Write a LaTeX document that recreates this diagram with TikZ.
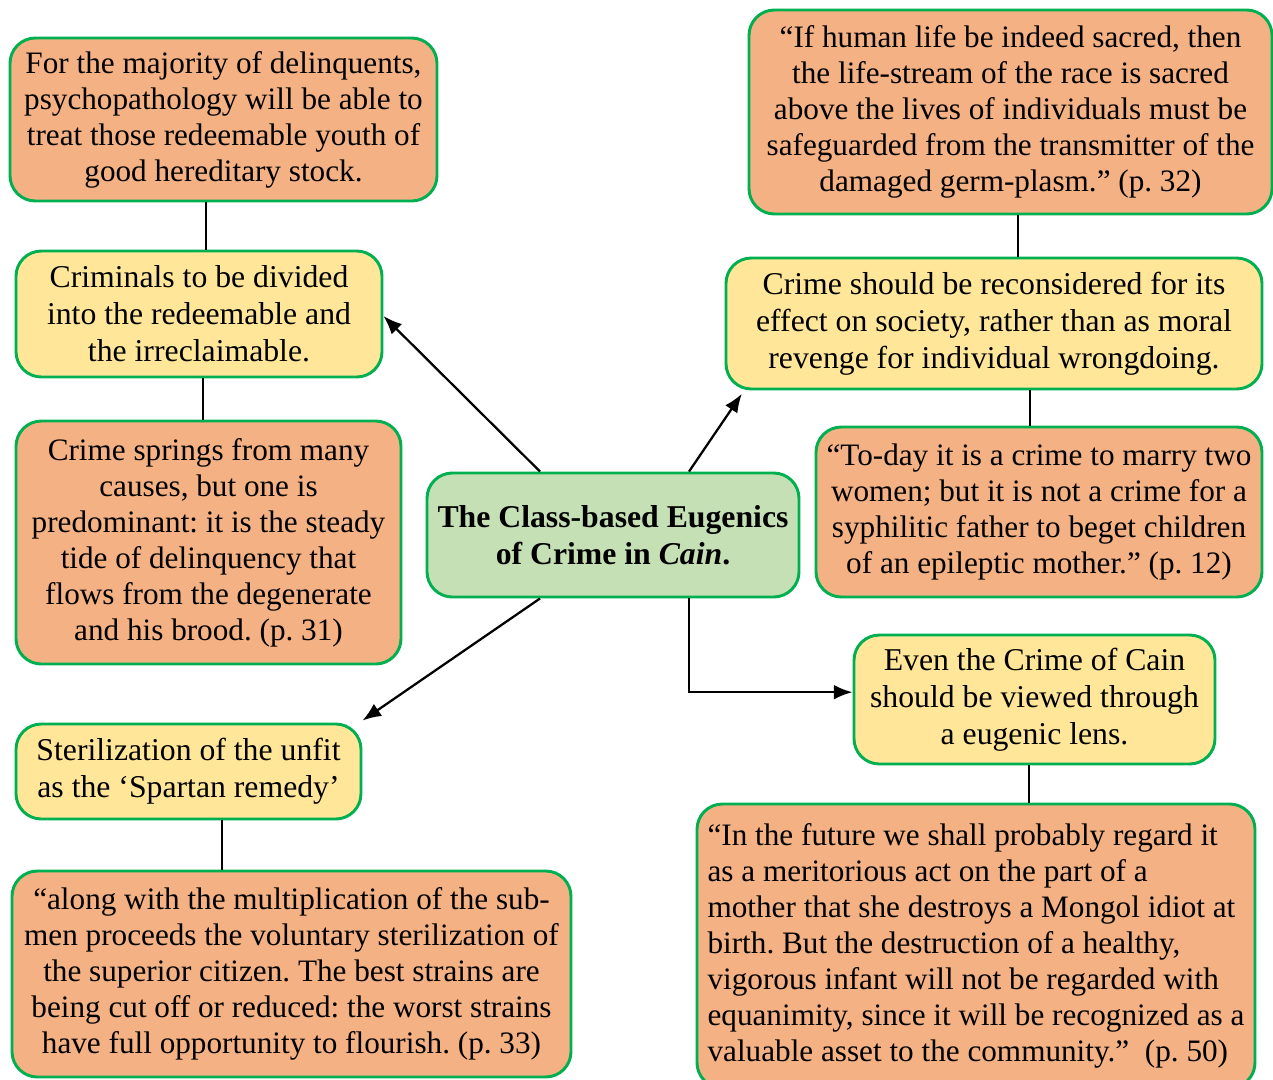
\documentclass[tikz,border=0pt]{standalone}
\usepackage{fontspec}
\setmainfont{Liberation Serif}
\usetikzlibrary{arrows.meta}
\definecolor{quotefill}{HTML}{F4B183}
\definecolor{ideafill}{HTML}{FFE699}
\definecolor{corefill}{HTML}{C5E0B4}
\definecolor{rim}{HTML}{00B050}
\frenchspacing

\tikzset{
  card/.style={draw=rim, line width=2.2pt, rounded corners=19pt, inner sep=0pt, align=center, text=black},
  dims/.style 2 args={minimum width=#1*0.75pt, minimum height=#2*0.75pt},
  quotebox/.style={card, fill=quotefill, font=\fontsize{23.4}{27}\selectfont},
  ideabox/.style={card, fill=ideafill, font=\fontsize{23.8}{27.6}\selectfont},
  corebox/.style={card, fill=corefill, font=\bfseries\fontsize{23.8}{27.6}\selectfont},
  link/.style={line width=1.6pt},
  pointer/.style={line width=1.7pt, -{Latex[length=14pt,width=11pt]}},
}

\begin{document}
\begin{tikzpicture}[x=0.75pt,y=-0.75pt]
\useasboundingbox (0,0) rectangle (1273,1079);

% central theme
\node[corebox, dims={372}{124}] (core) at (613,535)
  {The Class-based Eugenics\\of Crime in \textit{Cain}.};

% left column
\node[quotebox, dims={427}{163}] (q1) at (223.5,119.5)
  {For the majority of delinquents,\\psychopathology will be able to\\treat those redeemable youth of\\good hereditary stock.};
\node[ideabox, dims={366}{126}] (i1) at (199,314)
  {Criminals to be divided\\into the redeemable and\\the irreclaimable.};
\node[quotebox, dims={385}{243}] (q2) at (208.5,542.5)
  {Crime springs from many\\causes, but one is\\predominant: it is the steady\\tide of delinquency that\\flows from the degenerate\\and his brood. (p. 31)};
\node[ideabox, dims={345}{95}] (i2) at (188.5,771.5)
  {Sterilization of the unfit\\as the ‘Spartan remedy’};
\node[quotebox, dims={559}{206}] (q3) at (291.5,974)
  {“along with the multiplication of the sub-\\men proceeds the voluntary sterilization of\\the superior citizen. The best strains are\\being cut off or reduced: the worst strains\\have full opportunity to flourish. (p. 33)};

% right column
\node[quotebox, dims={523}{204}] (q4) at (1010.5,112)
  {“If human life be indeed sacred, then\\the life-stream of the race is sacred\\above the lives of individuals must be\\safeguarded from the transmitter of the\\damaged germ-plasm.” (p. 32)};
\node[ideabox, dims={536}{131}] (i3) at (994,323.5)
  {Crime should be reconsidered for its\\effect on society, rather than as moral\\revenge for individual wrongdoing.};
\node[quotebox, dims={446}{170}] (q5) at (1039,512)
  {“To-day it is a crime to marry two\\women; but it is not a crime for a\\syphilitic father to beget children\\of an epileptic mother.” (p. 12)};
\node[ideabox, dims={361}{129}] (i4) at (1034.5,699.5)
  {Even the Crime of Cain\\should be viewed through\\a eugenic lens.};
\node[quotebox, dims={558}{284}, align=left] (q6) at (976,946)
  {“In the future we shall probably regard it\\as a meritorious act on the part of a\\mother that she destroys a Mongol idiot at\\birth. But the destruction of a healthy,\\vigorous infant will not be regarded with\\equanimity, since it will be recognized as a\\valuable asset to the community.”\ \ (p. 50)};

% vertical columns for the plain links
\coordinate (xa) at (206,0);
\coordinate (xb) at (203,0);
\coordinate (xc) at (222,0);
\coordinate (xd) at (1018,0);
\coordinate (xe) at (1030,0);
\coordinate (xf) at (1029,0);
\coordinate (xl) at (540,0);
\coordinate (xr) at (689,0);

% plain links between statements and quotations
\draw[link] (q1.south -| xa) -- (i1.north -| xa);
\draw[link] (i1.south -| xb) -- (q2.north -| xb);
\draw[link] (i2.south -| xc) -- (q3.north -| xc);
\draw[link] (q4.south -| xd) -- (i3.north -| xd);
\draw[link] (i3.south -| xe) -- (q5.north -| xe);
\draw[link] (i4.south -| xf) -- (q6.north -| xf);

% arrows from the central theme
\draw[pointer] (core.north -| xl) -- ([yshift=-1.5pt]i1.east);
\draw[pointer] (core.north -| xr) -- ([xshift=13pt,yshift=-2.5pt]i3.south west);
\draw[pointer] (core.south -| xl) -- ([yshift=1.5pt]i2.north east);
\draw[pointer] (core.south -| xr) |- ([yshift=5.5pt]i4.west);
\end{tikzpicture}
\end{document}
